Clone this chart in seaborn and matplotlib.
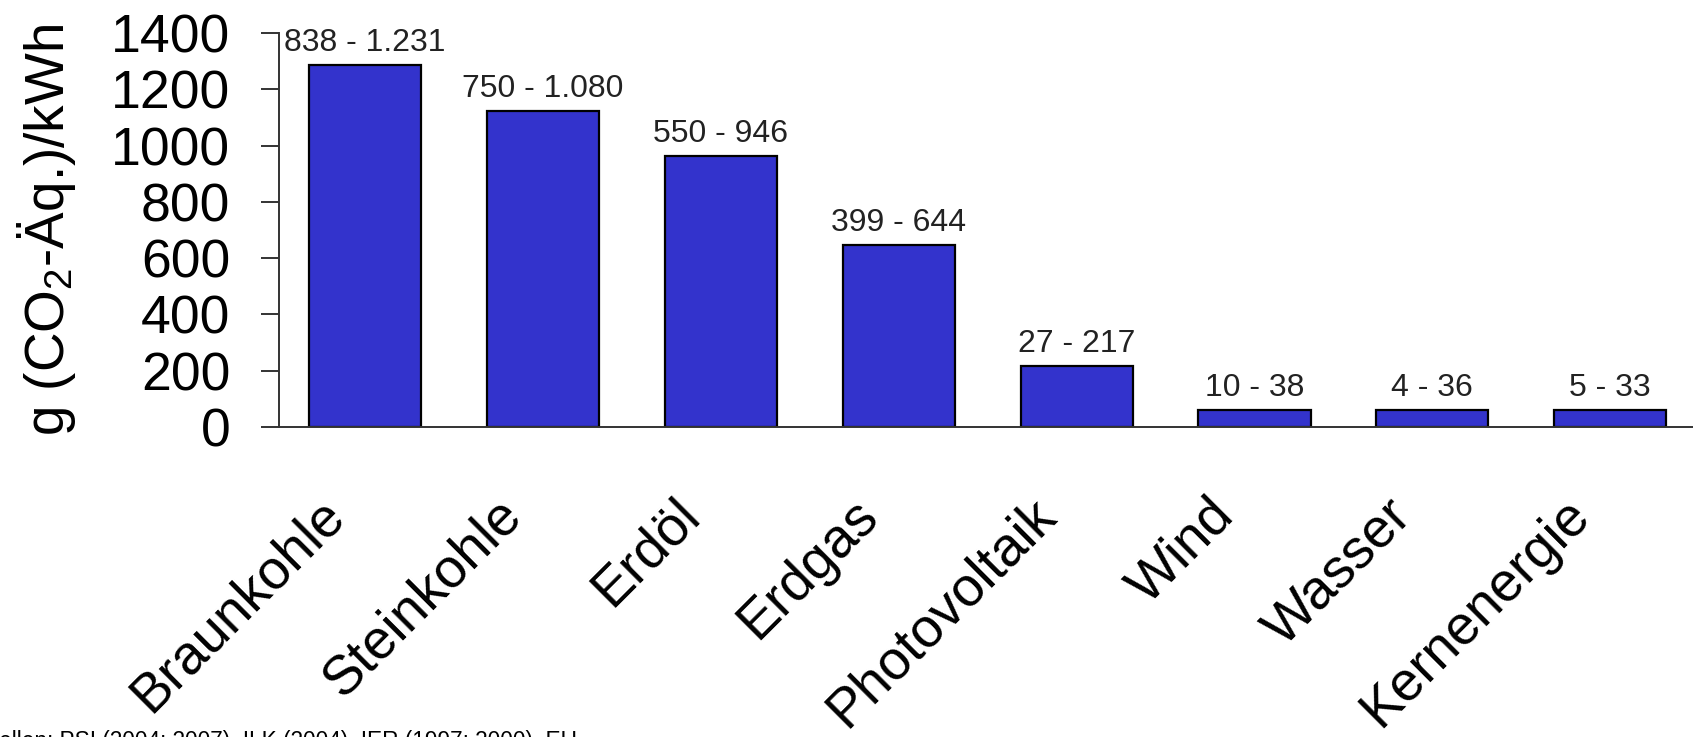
import matplotlib
matplotlib.use("Agg")
import matplotlib.pyplot as plt
from matplotlib.transforms import ScaledTranslation
import seaborn as sns

# ---- data ----
categories = ["Braunkohle", "Steinkohle", "Erdöl", "Erdgas",
              "Photovoltaik", "Wind", "Wasser", "Kernenergie"]
bar_heights = [1285, 1123, 963, 646, 217, 60, 60, 60]
range_labels = ["838 - 1.231", "750 - 1.080", "550 - 946", "399 - 644",
                "27 - 217", "10 - 38", "4 - 36", "5 - 33"]
y_ticks = [0, 200, 400, 600, 800, 1000, 1200, 1400]
y_label = "g (CO$_\\mathregular{2}$-Äq.)/kWh"
footnote = "Quellen: PSI (2004; 2007), ILK (2004), IER (1997; 2000), EU"

# ---- style ----
sns.set_theme(style="white")
plt.rcParams["font.family"] = ["Liberation Sans", "DejaVu Sans"]
plt.rcParams["mathtext.fontset"] = "custom"
plt.rcParams["mathtext.rm"] = "Liberation Sans"
plt.rcParams["mathtext.it"] = "Liberation Sans:italic"

W, H = 1693, 737
fig = plt.figure(figsize=(W / 100, H / 100), dpi=100)
fig.patch.set_facecolor("white")
ax_left, ax_bottom = 279 / W, 1 - 427 / H
ax = fig.add_axes([ax_left, ax_bottom, 1 - ax_left, (427 - 33) / H])
ax.set_facecolor("white")

sns.barplot(x=categories, y=bar_heights, color="#3333CC", saturation=1,
            edgecolor="black", linewidth=1.6, width=0.63, ax=ax)

ax.set_ylim(0, 1400)
ax.set_xlim(-0.483, 7.465)
ax.set_yticks(y_ticks)
ax.set_yticklabels([str(t) for t in y_ticks], fontsize=38.5, color="black")

for s in ["top", "right"]:
    ax.spines[s].set_visible(False)
for s in ["left", "bottom"]:
    ax.spines[s].set_color("#333333")
    ax.spines[s].set_linewidth(1.4)

ax.tick_params(axis="y", direction="out", length=13, width=1.4,
               color="#333333", pad=22, left=True)
ax.tick_params(axis="x", length=0, pad=0)

ax.set_xticks(range(len(categories)))
ax.set_xticklabels(categories, fontsize=39.5, rotation=45, ha="right",
                   va="top", rotation_mode="anchor", color="black")
offset = ScaledTranslation(-0.47, -0.62, fig.dpi_scale_trans)
for lab in ax.get_xticklabels():
    lab.set_transform(lab.get_transform() + offset)

ax.set_xlabel("")
ax.set_ylabel(y_label, fontsize=39.5, color="black")
ax.yaxis.set_label_coords((78 - 279) / (W - 279), 0.5)

for i, (h, txt) in enumerate(zip(bar_heights, range_labels)):
    ax.annotate(txt, (i, h), xytext=(0, 10), textcoords="offset points",
                ha="center", va="baseline", fontsize=23, color="#222222",
                annotation_clip=False)

fig.text(-31 / W, 1 - 730 / H, footnote, ha="left", va="top",
         fontsize=16.3, color="black")

fig.savefig("out.png", dpi=100)
